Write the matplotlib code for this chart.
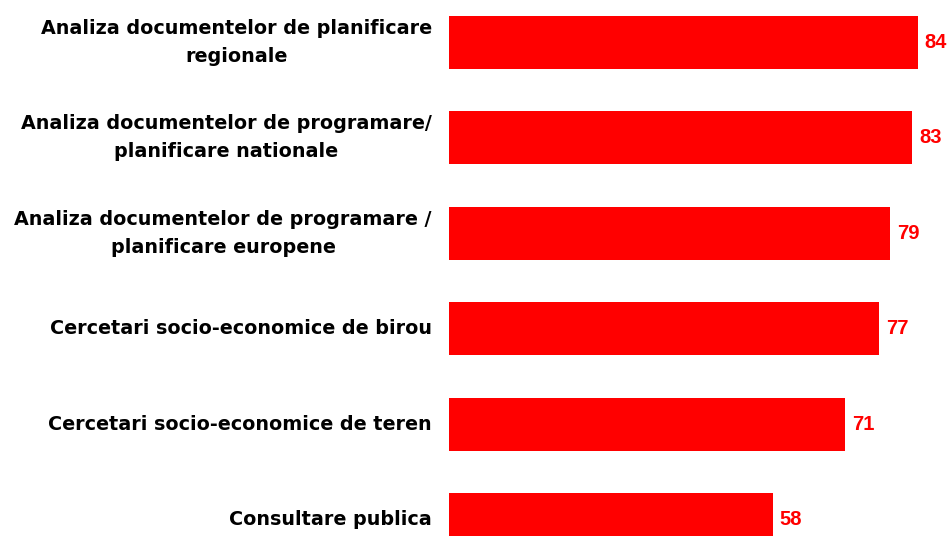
import matplotlib
matplotlib.use("Agg")
import matplotlib.pyplot as plt

# Дані
categories = [
    "Analiza documentelor de planificare\nregionale",
    "Analiza documentelor de programare/\nplanificare nationale",
    "Analiza documentelor de programare /\nplanificare europene",
    "Cercetari socio-economice de birou",
    "Cercetari socio-economice de teren",
    "Consultare publica",
]
values = [84, 83, 79, 77, 71, 58]

fig = plt.figure(figsize=(9.5, 5.36), dpi=100)
# осі виходять за межі рисунка, як в оригіналі (останній стовпчик обрізаний)
ax = fig.add_axes([449 / 950, 1 - 567.25 / 536, 558 / 950, 572.5 / 536])

pos = list(range(len(values)))
ax.barh(pos, values, height=0.555, color="#ff0000")
ax.set_xlim(0, 100)
ax.set_ylim(len(values) - 0.5, -0.5)
ax.axis("off")

for p, v in zip(pos, values):
    ax.text(v + 1.25, p, str(v), color="#ff0000", fontsize=14.5, fontweight="bold",
            family="Liberation Sans", va="center", ha="left")

for p, c in zip(pos, categories):
    ax.annotate(c, xy=(0, p), xycoords="data", xytext=(-17, 0), textcoords="offset pixels",
                ha="right", va="center", multialignment="center",
                fontsize=13.8, fontweight="bold", family="DejaVu Sans",
                linespacing=1.6)

fig.savefig("out.png", dpi=100)
